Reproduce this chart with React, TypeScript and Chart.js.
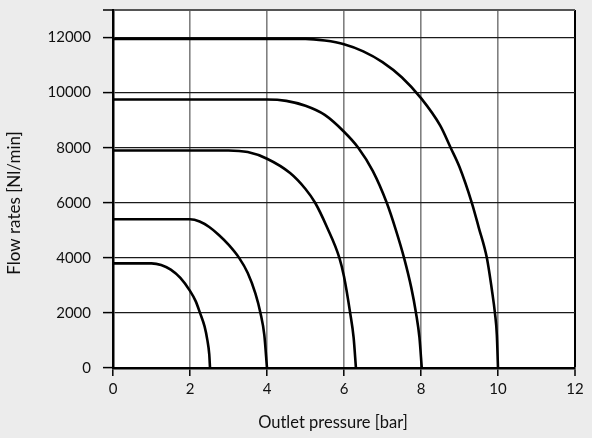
import React, { useEffect, useRef } from "react";
import { Chart, registerables } from "chart.js";

Chart.register(...registerables);

// Outlet pressure [bar] / flow rate [Nl/min] pairs, one curve per regulator size
const pressureA = [0, 1.0, 1.25, 1.5, 1.75, 2.0, 2.15, 2.26, 2.38, 2.45, 2.5, 2.52];
const flowA = [3800, 3800, 3740, 3570, 3270, 2800, 2420, 2000, 1500, 1020, 500, 0];

const pressureB = [0, 2.0, 2.25, 2.5, 2.75, 3.0, 3.28, 3.5, 3.7, 3.83, 3.93, 4.0];
const flowB = [5400, 5400, 5320, 5120, 4830, 4480, 3990, 3450, 2700, 2000, 1200, 0];

const pressureC = [0, 3.0, 3.5, 4.0, 4.6, 5.0, 5.25, 5.55, 5.88, 6.0, 6.16, 6.25, 6.31];
const flowC = [7900, 7900, 7840, 7600, 7080, 6500, 6000, 5140, 4000, 3320, 2000, 1100, 0];

const pressureD = [0, 4.0, 4.5, 5.0, 5.5, 6.0, 6.37, 6.75, 7.11, 7.35, 7.56, 7.75, 7.87, 7.96, 8.02];
const flowD = [9750, 9750, 9700, 9520, 9190, 8580, 8000, 7150, 6000, 5000, 4000, 2900, 2000, 1100, 0];

const pressureE = [0, 5.0, 5.5, 6.0, 6.5, 7.0, 7.5, 8.0, 8.5, 8.77, 9.0, 9.32, 9.5, 9.71, 9.85, 9.92, 9.97, 10.0];
const flowE = [11950, 11950, 11890, 11760, 11500, 11110, 10560, 9800, 8800, 8000, 7300, 6000, 5100, 4000, 2750, 2000, 1200, 0];

const curves = [
  [pressureA, flowA],
  [pressureB, flowB],
  [pressureC, flowC],
  [pressureD, flowD],
  [pressureE, flowE],
];

// Axis ticks (the 13000 step only closes the frame and carries no label)
const xTicks = [0, 2, 4, 6, 8, 10, 12];
const yTicks = [0, 2000, 4000, 6000, 8000, 10000, 12000, 13000];
const yLabelled = [0, 2000, 4000, 6000, 8000, 10000, 12000];

const xTitle = "Outlet pressure [bar]";
const yTitle = "Flow rates [Nl/min]";

const FONT = "Lato, 'Liberation Sans', sans-serif";

const plotBackground = {
  id: "plotBackground",
  beforeDraw(chart: any) {
    const { ctx, chartArea } = chart;
    ctx.save();
    ctx.fillStyle = "#ffffff";
    ctx.fillRect(chartArea.left, chartArea.top, chartArea.right - chartArea.left, chartArea.bottom - chartArea.top);
    ctx.restore();
  },
};

// Axis titles, placed a little left of / below the plot centre
const axisTitles = {
  id: "axisTitles",
  afterDraw(chart: any) {
    const { ctx, chartArea } = chart;
    ctx.save();
    ctx.fillStyle = "#111";
    ctx.textAlign = "center";
    ctx.textBaseline = "middle";
    ctx.font = `16.5px ${FONT}`;
    ctx.fillText(xTitle, (chartArea.left + chartArea.right) / 2 - 11, 423);
    ctx.translate(15, 203);
    ctx.rotate(-Math.PI / 2);
    ctx.font = `17px ${FONT}`;
    ctx.fillText(yTitle, 0, 0);
    ctx.restore();
  },
};

export default function App() {
  const ref = useRef<HTMLCanvasElement | null>(null);

  useEffect(() => {
    document.body.style.margin = "0";
    const canvas = ref.current;
    if (!canvas) return;
    const chart = new Chart(canvas, {
      type: "line",
      data: {
        datasets: curves.map(([xs, ys]) => ({
          data: xs.map((x, i) => ({ x, y: ys[i] })),
          borderColor: "#000000",
          borderWidth: 2.6,
          pointRadius: 0,
          fill: false,
          cubicInterpolationMode: "monotone" as const,
        })),
      },
      options: {
        responsive: false,
        animation: false,
        layout: { padding: { top: 10, right: 17, left: 0, bottom: 0 } },
        plugins: {
          legend: { display: false },
          tooltip: { enabled: false },
        },
        scales: {
          x: {
            type: "linear",
            min: 0,
            max: 12,
            afterBuildTicks: (s: any) => {
              s.ticks = xTicks.map((value) => ({ value }));
            },
            afterFit: (s: any) => {
              s.height = 70;
            },
            ticks: {
              color: "#111",
              padding: 4,
              autoSkip: false,
              font: { family: FONT, size: 15 },
            },
            grid: {
              color: (c: any) => (c.tick && c.tick.value === 12 ? "#000" : "#808080"),
              lineWidth: (c: any) => (c.tick && c.tick.value === 12 ? 2 : 1.6),
              tickLength: 8,
              tickColor: "#000",
              tickWidth: 1.5,
            },
            border: { color: "#000", width: 2.5 },
          },
          y: {
            type: "linear",
            min: 0,
            max: 13000,
            afterBuildTicks: (s: any) => {
              s.ticks = yTicks.map((value) => ({ value }));
            },
            afterFit: (s: any) => {
              s.width = 113;
              s.paddingTop = 0;
            },
            ticks: {
              color: "#111",
              padding: 12,
              autoSkip: false,
              font: { family: FONT, size: 15 },
              callback: (v: any) => (yLabelled.includes(Number(v)) ? String(v) : ""),
            },
            grid: {
              color: (c: any) => (c.tick && c.tick.value === 13000 ? "#555" : "#1a1a1a"),
              lineWidth: (c: any) => (c.tick && c.tick.value === 13000 ? 2 : 1.2),
              tickLength: 10,
              tickColor: "#000",
              tickWidth: 1.5,
            },
            border: { color: "#000", width: 2.5 },
          },
        },
      },
      plugins: [plotBackground, axisTitles],
    });
    return () => chart.destroy();
  }, []);

  return (
    <div style={{ position: "absolute", left: 0, top: 0, width: 592, height: 438, background: "#ececec" }}>
      <canvas ref={ref} width={592} height={438} style={{ display: "block" }} />
    </div>
  );
}
